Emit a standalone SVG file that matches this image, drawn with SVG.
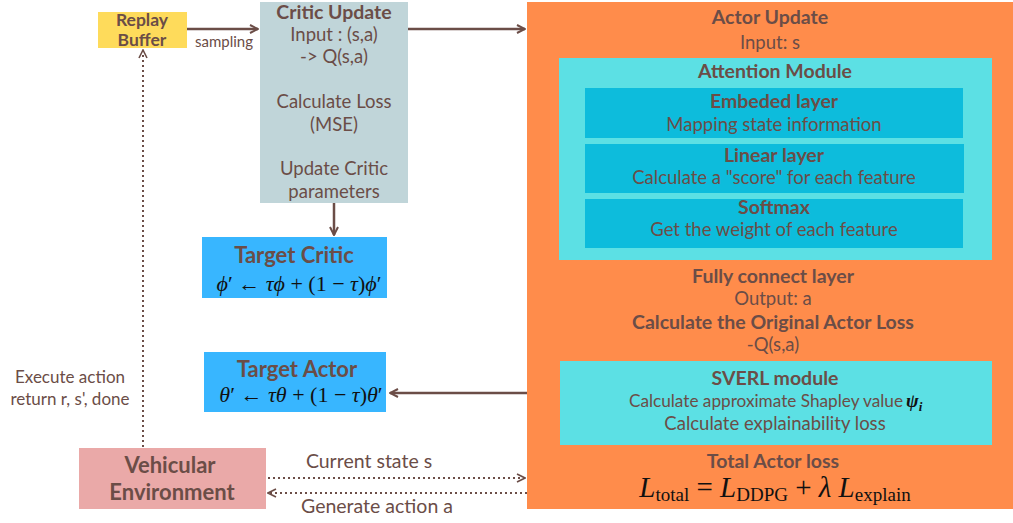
<svg xmlns="http://www.w3.org/2000/svg" width="1013" height="523" viewBox="0 0 1013 523">
<style>
text{font-family:Lato,"Open Sans",sans-serif;fill:#6b4d47;text-anchor:middle}
.b{font-weight:bold}
.t{font-size:18.5px}
.h{font-size:19.5px;font-weight:bold}
.m{font-family:"Liberation Serif","DejaVu Serif",serif;fill:#111}
.ln{stroke:#6b4d47;stroke-width:2.5;fill:none}
.dt{stroke:#6b4d47;stroke-width:2;fill:none;stroke-dasharray:2 3}
</style>
<defs>
<marker id="ah" viewBox="0 0 10 10" refX="9" refY="5" markerWidth="4" markerHeight="4" orient="auto-start-reverse"><path d="M1,1 L9,5 L1,9" fill="none" stroke="#6b4d47" stroke-width="2"/></marker>
<marker id="ad" viewBox="0 0 10 10" refX="9" refY="5" markerWidth="5" markerHeight="5" orient="auto-start-reverse"><path d="M1,1 L9,5 L1,9" fill="none" stroke="#6b4d47" stroke-width="1.6"/></marker>
</defs>
<rect width="1013" height="523" fill="#fff"/>
<g id="actor">
<rect x="527" y="2" width="486" height="507" fill="#ff8c4b"/>
<text x="770" y="24" class="h">Actor Update</text>
<text x="770" y="49" class="t">Input: s</text>
<rect x="559" y="58" width="433" height="202" fill="#5ce0e4"/>
<text x="775" y="78" class="h">Attention Module</text>
<rect x="585" y="88" width="378" height="50" fill="#0dbcdc"/>
<text x="774" y="108" class="h">Embeded layer</text>
<text x="774" y="131" class="t">Mapping state information</text>
<rect x="585" y="144" width="379" height="49" fill="#0dbcdc"/>
<text x="774" y="162" class="h">Linear layer</text>
<text x="774" y="184" class="t">Calculate a "score" for each feature</text>
<rect x="585" y="199" width="378" height="49" fill="#0dbcdc"/>
<text x="774" y="214" class="h">Softmax</text>
<text x="774" y="236" class="t">Get the weight of each feature</text>
<text x="773" y="283" class="h">Fully connect layer</text>
<text x="773" y="305" class="t">Output: a</text>
<text x="773" y="329" class="h">Calculate the Original Actor Loss</text>
<text x="773" y="351" class="t">-Q(s,a)</text>
<rect x="560" y="361" width="432" height="84" fill="#5ce0e4"/>
<text x="775" y="385" class="h">SVERL module</text>
<text x="903" y="407" style="font-size:17.2px;text-anchor:end">Calculate approximate Shapley value</text>
<text x="906" y="407" class="m" style="font-size:19px;font-style:italic;font-weight:bold;text-anchor:start">ψ<tspan style="font-size:13px" dy="4">i</tspan></text>
<text x="775" y="430" class="t">Calculate explainability loss</text>
<text x="773" y="468" class="h">Total Actor loss</text>
<text x="775" y="497" class="m" style="font-size:29px"><tspan font-style="italic">L</tspan><tspan style="font-size:19px" dy="4">total</tspan><tspan dy="-4"> = </tspan><tspan font-style="italic">L</tspan><tspan style="font-size:19px" dy="4">DDPG</tspan><tspan dy="-4"> + </tspan><tspan font-style="italic">λ L</tspan><tspan style="font-size:19px" dy="4">explain</tspan></text>
</g>
<g id="replay">
<rect x="98" y="12" width="89" height="36" fill="#fedb5b"/>
<text x="142" y="26" class="b" style="font-size:17.5px">Replay</text>
<text x="142" y="46" class="b" style="font-size:17.5px">Buffer</text>
</g>
<g id="critic">
<rect x="260" y="2" width="148" height="201" fill="#c0d5d9"/>
<text x="334" y="19" class="h">Critic Update</text>
<text x="334" y="41" class="t">Input : (s,a)</text>
<text x="334" y="63" class="t">-&gt; Q(s,a)</text>
<text x="334" y="108" class="t">Calculate Loss</text>
<text x="334" y="131" class="t">(MSE)</text>
<text x="334" y="175" class="t">Update Critic</text>
<text x="334" y="198" class="t">parameters</text>
</g>
<g id="targetCritic">
<rect x="202" y="237" width="185" height="61" fill="#38b6ff"/>
<text x="294" y="263" class="b" style="font-size:22px">Target Critic</text>
<text x="299" y="291" class="m" style="font-size:22px"><tspan font-style="italic">ϕ</tspan>′ ← <tspan font-style="italic">τϕ</tspan> + (1 − <tspan font-style="italic">τ</tspan>)<tspan font-style="italic">ϕ</tspan>′</text>
</g>
<g id="targetActor">
<rect x="204" y="352" width="182" height="60" fill="#38b6ff"/>
<text x="297" y="377" class="b" style="font-size:22px">Target Actor</text>
<text x="301" y="402" class="m" style="font-size:22px"><tspan font-style="italic">θ</tspan>′ ← <tspan font-style="italic">τθ</tspan> + (1 − <tspan font-style="italic">τ</tspan>)<tspan font-style="italic">θ</tspan>′</text>
</g>
<g id="env">
<rect x="79" y="448" width="187" height="61" fill="#eaa9a8"/>
<text x="170" y="473" class="b" style="font-size:22px">Vehicular</text>
<text x="172" y="500" class="b" style="font-size:22px">Environment</text>
</g>
<g id="connectors">
<line x1="187" y1="29" x2="258" y2="29" class="ln" marker-end="url(#ah)"/>
<text x="224" y="47" style="font-size:15px">sampling</text>
<line x1="408" y1="29" x2="525" y2="29" class="ln" marker-end="url(#ah)"/>
<line x1="334" y1="203" x2="334" y2="235" class="ln" marker-end="url(#ah)"/>
<line x1="527" y1="393" x2="390" y2="393" class="ln" marker-end="url(#ah)"/>
<line x1="143" y1="447" x2="143" y2="50" class="dt" marker-end="url(#ad)"/>
<text x="70" y="383" style="font-size:17px">Execute action</text>
<text x="70" y="405" style="font-size:17px">return r, s', done</text>
<line x1="268" y1="478" x2="525" y2="478" class="dt" marker-end="url(#ad)"/>
<line x1="527" y1="493" x2="268" y2="493" class="dt" marker-end="url(#ad)"/>
<text x="369" y="468" style="font-size:19.5px">Current state s</text>
<text x="377" y="513" style="font-size:19.5px">Generate action a</text>
</g>
</svg>
